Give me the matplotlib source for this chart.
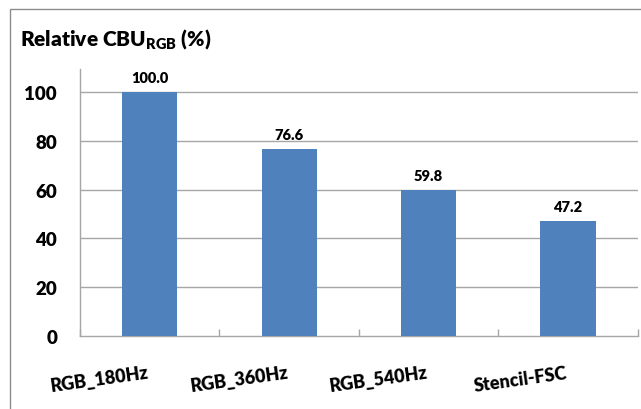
import matplotlib
matplotlib.use("Agg")
import matplotlib.pyplot as plt
from matplotlib.patches import Rectangle
from matplotlib.transforms import offset_copy

categories = ["RGB_180Hz", "RGB_360Hz", "RGB_540Hz", "Stencil-FSC"]
values = [100.0, 76.6, 59.8, 47.2]
yticks = [0, 20, 40, 60, 80, 100]

plt.rcParams["font.family"] = ["Lato", "DejaVu Sans"]
plt.rcParams["mathtext.fontset"] = "custom"
plt.rcParams["mathtext.rm"] = "Lato"
plt.rcParams["mathtext.bf"] = "Lato:heavy"

W, H = 641, 410
fig = plt.figure(figsize=(W / 100, H / 100), dpi=100)

# outer chart-area frame (only left and top edges fall inside the image)
fig.patches.append(Rectangle((10 / W, -0.1), 1.2, (400 / H) + 0.1,
                             transform=fig.transFigure, fill=False,
                             edgecolor="#8c8c8c", linewidth=1.0))

left, right = 80 / W, 637.7 / W
bottom, top = (H - 337) / H, (H - 70) / H
ax = fig.add_axes([left, bottom, right - left, top - bottom])

x = list(range(len(categories)))
ax.bar(x, values, width=0.395, color="#4F81BD", zorder=3)
ax.set_xlim(-0.5, len(categories) - 0.5)
ax.set_ylim(0, 109.4)

ax.set_yticks(yticks)
ax.set_yticklabels([str(t) for t in yticks], fontsize=13.5, fontweight="heavy")
ax.tick_params(axis="y", length=0, pad=16.5)
for t in yticks[1:]:
    ax.axhline(t, color="#a6a6a6", linewidth=1.0, zorder=1)

# category boundaries as minor ticks
ax.set_xticks([i - 0.5 for i in range(len(categories) + 1)], minor=True)
ax.set_xticks(x)
ax.set_xticklabels([])
ax.tick_params(axis="x", which="major", length=0)
ax.tick_params(axis="x", which="minor", length=5, direction="in",
               color="#a6a6a6", width=1.0)

for s in ["top", "right"]:
    ax.spines[s].set_visible(False)
for s in ["left", "bottom"]:
    ax.spines[s].set_color("#a6a6a6")
    ax.spines[s].set_linewidth(1.0)

for xi, v in zip(x, values):
    ax.annotate(f"{v:.1f}", (xi, v), xytext=(0, 5.5), textcoords="offset points",
                ha="center", va="bottom", fontsize=10.5, fontweight="heavy")

# slanted category labels, right end anchored under each bar
label_tr = offset_copy(ax.transData, fig=fig, x=0, y=-30, units="points")
for xi, c in zip(x, categories):
    ax.text(xi, 0, c, transform=label_tr, ha="right", va="baseline",
            rotation=8, rotation_mode="anchor", fontsize=13,
            fontweight="heavy")

fig.text(20 / W, 1 - 40 / H, r"Relative CBU$_{\mathbf{RGB}}$ (%)",
         fontsize=15, fontweight="heavy", ha="left", va="center")

fig.savefig("out.png", dpi=100)
